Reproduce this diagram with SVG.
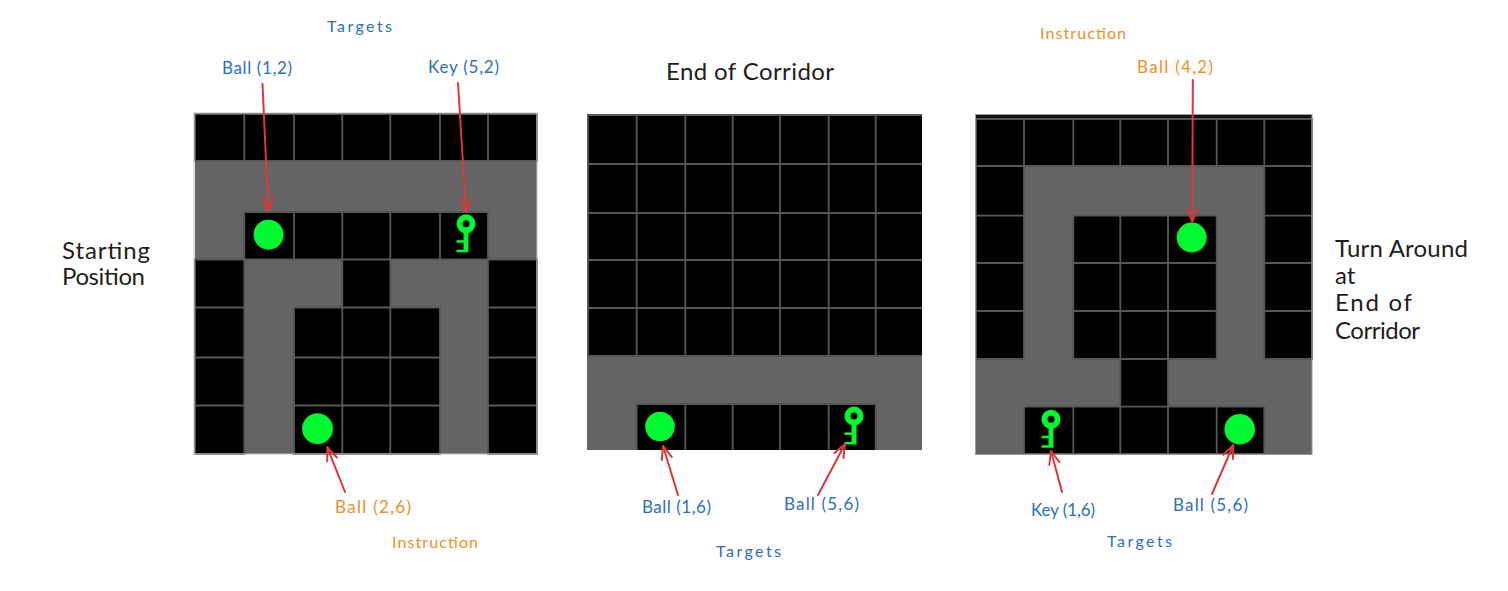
<svg xmlns="http://www.w3.org/2000/svg" xmlns:xlink="http://www.w3.org/1999/xlink" width="1508" height="591" viewBox="0 0 1508 591">
<style>
text{font-family:"Lato","Noto Sans",sans-serif;}
.floor{fill:#646464;}
.cells{fill:#000;stroke:#575757;stroke-width:1.8;}
.edge{fill:none;stroke:#c4c4c4;stroke-width:1;}
.ball{fill:#00f92f;}
.blue{fill:#2c6fc0;}
.orange{fill:#ef8f24;}
.ink{fill:#1e1e1e;}
.s15{font-size:17px;}
.s14{font-size:16px;}
.s21{font-size:24px;}
.arrow{fill:none;stroke:#d8393a;stroke-width:2;stroke-linecap:round;marker-end:url(#open);}
</style>
<defs>
<clipPath id="clip-end"><rect x="587" y="114" width="335" height="336"/></clipPath>
<marker id="open" markerUnits="userSpaceOnUse" markerWidth="18" markerHeight="16" refX="15" refY="8" orient="auto" viewBox="0 0 18 16">
<path d="M2 2.8L15 8L2 13.2" fill="none" stroke="#d8393a" stroke-width="2" stroke-linecap="round" stroke-linejoin="round"/>
</marker>
<g id="key">
<circle r="6.5" fill="none" stroke="#00f92f" stroke-width="6"/>
<path d="M-2.5 8H2.5V28.5H-9.5V26H-2.5V19H-9.5V16.5H-2.5Z" fill="#00f92f"/>
</g>
</defs>

<g id="panel-start">
<rect class="floor" x="195" y="113" width="342" height="341"/>
<path class="cells" d="M195 114H537V161H195ZM244.3 114V161M294 114V161M342.3 114V161M390.3 114V161M440 114V161M488 114V161
M244.3 212H488V259.5H244.3ZM294 212V259.5M342.3 212V259.5M390.3 212V259.5M440 212V259.5
M195 259.5H244.3V307.5H195ZM342.3 259.5H390.3V307.5H342.3ZM488 259.5H537V307.5H488Z
M195 307.5H244.3V454H195ZM195 357.5H244.3M195 405.5H244.3
M488 307.5H537V454H488ZM488 357.5H537M488 405.5H537
M294 307.5H440V454H294ZM294 357.5H440M294 405.5H440M342.3 307.5V454M390.3 307.5V454"/>
<rect class="edge" x="194" y="113" width="343" height="341"/>
<circle class="ball" cx="268.5" cy="234.7" r="15"/>
<circle class="ball" cx="317.5" cy="428.7" r="15.4"/>
<use xlink:href="#key" href="#key" x="466" y="223.7"/>
</g>

<g id="panel-end">
<rect class="floor" x="587" y="114" width="335" height="336"/>
<path class="cells" clip-path="url(#clip-end)" d="M588 115H924V356H588ZM636.7 115V356M685.3 115V356M732.7 115V356M780 115V356M828.7 115V356M875.7 115V356
M588 164H924M588 213H924M588 260H924M588 308H924
M636.7 404H875.7V454H636.7ZM685.3 404V454M732.7 404V454M780 404V454M828.7 404V454"/>
<circle class="ball" cx="660" cy="426.5" r="14.8"/>
<use xlink:href="#key" href="#key" x="854" y="416"/>
</g>

<g id="panel-turn">
<rect class="floor" x="976" y="115" width="336" height="339"/>
<rect x="976" y="115" width="336" height="4" fill="#11151a"/>
<path class="cells" d="M976 119H1312V166H976ZM1024 119V166M1073.3 119V166M1120.3 119V166M1168 119V166M1216.7 119V166M1264.3 119V166
M976 166H1024V359H976ZM976 215.7H1024M976 263H1024M976 311H1024
M1264.3 166H1312V359H1264.3ZM1264.3 215.7H1312M1264.3 263H1312M1264.3 311H1312
M1073.3 215.7H1216.7V359H1073.3ZM1073.3 263H1216.7M1073.3 311H1216.7M1120.3 215.7V359M1168 215.7V359
M1120.3 359H1168V406.7H1120.3Z
M1024 406.7H1264.3V454H1024ZM1073.3 406.7V454M1120.3 406.7V454M1168 406.7V454M1216.7 406.7V454"/>
<rect class="edge" x="975.5" y="114.5" width="336.5" height="340" style="stroke:#9a9a9a"/>
<circle class="ball" cx="1191.7" cy="237.5" r="15"/>
<circle class="ball" cx="1239.7" cy="429.3" r="15.3"/>
<use xlink:href="#key" href="#key" x="1051" y="419.3"/>
</g>

<g id="connectors">
<path class="arrow" d="M262.5 84L268.3 211"/>
<path class="arrow" d="M458 83L466 212"/>
<path class="arrow" d="M345 492L327.3 447.3"/>
<path class="arrow" d="M678 495L663 446"/>
<path class="arrow" d="M818 495L845 444"/>
<path class="arrow" d="M1062 492L1051 451"/>
<path class="arrow" d="M1212 494L1233.3 445"/>
<path class="arrow" d="M1192.8 80L1192.3 221.7"/>
</g>

<g id="label-targets-1"><text class="blue s14" x="327" y="32" textLength="65">Targets</text></g>
<g id="label-ball-1-2"><text class="blue s15" x="222" y="74" textLength="70">Ball (1,2)</text></g>
<g id="label-key-5-2"><text class="blue s15" x="428" y="73" textLength="71">Key (5,2)</text></g>
<g id="label-start"><text class="ink s21" x="62" y="259" textLength="88">Starting</text><text class="ink s21" x="62" y="285" textLength="83">Position</text></g>
<g id="label-ball-2-6"><text class="orange s15" x="335" y="513" textLength="76">Ball (2,6)</text></g>
<g id="label-instruction-1"><text class="orange s14" x="392" y="548" textLength="86">Instruction</text></g>
<g id="label-end"><text class="ink s21" x="666" y="80" textLength="168">End of Corridor</text></g>
<g id="label-ball-1-6"><text class="blue s15" x="642" y="513" textLength="69">Ball (1,6)</text></g>
<g id="label-ball-5-6-a"><text class="blue s15" x="784" y="510" textLength="75">Ball (5,6)</text></g>
<g id="label-targets-2"><text class="blue s14" x="716" y="557" textLength="65">Targets</text></g>
<g id="label-instruction-2"><text class="orange s14" x="1040" y="39" textLength="86">Instruction</text></g>
<g id="label-ball-4-2"><text class="orange s15" x="1137" y="73" textLength="76">Ball (4,2)</text></g>
<g id="label-turn"><text class="ink s21" x="1335" y="257" textLength="133">Turn Around</text><text class="ink s21" x="1335" y="284">at</text><text class="ink s21" x="1335" y="311" textLength="77">End of</text><text class="ink s21" x="1335" y="339" textLength="85">Corridor</text></g>
<g id="label-key-1-6"><text class="blue s15" x="1031" y="516" textLength="64">Key (1,6)</text></g>
<g id="label-ball-5-6-b"><text class="blue s15" x="1173" y="511" textLength="75">Ball (5,6)</text></g>
<g id="label-targets-3"><text class="blue s14" x="1107" y="547" textLength="65">Targets</text></g>
</svg>
